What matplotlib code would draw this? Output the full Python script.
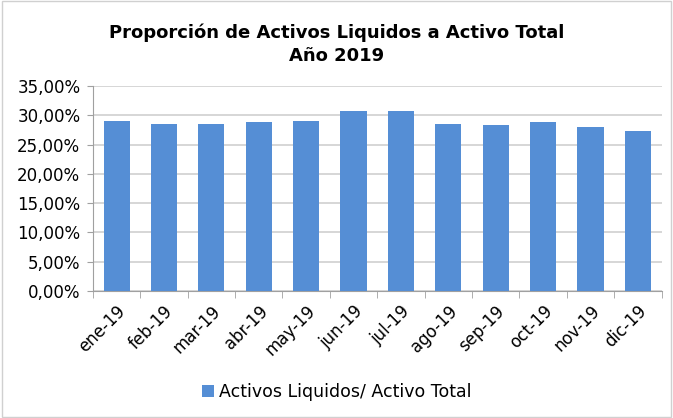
import numpy as np
import matplotlib.pyplot as plt
from matplotlib.ticker import FuncFormatter

plt.rcParams['font.family'] = ['DejaVu Sans']

meses = ['ene-19', 'feb-19', 'mar-19', 'abr-19', 'may-19', 'jun-19',
         'jul-19', 'ago-19', 'sep-19', 'oct-19', 'nov-19', 'dic-19']
valores = [29.1, 28.5, 28.5, 28.8, 29.1, 30.8, 30.8, 28.6, 28.3, 28.9, 28.0, 27.4]

fig = plt.figure(figsize=(6.73, 4.18), dpi=100)
ax = fig.add_axes([0.138, 0.304, 0.845, 0.490])

x = np.arange(len(meses))
ax.bar(x, valores, width=0.55, color='#558ED5', zorder=3,
       label='Activos Liquidos/ Activo Total')

ax.set_ylim(0, 35)
ax.set_xlim(-0.5, len(meses) - 0.5)
ax.set_yticks(np.arange(0, 36, 5))
ax.yaxis.set_major_formatter(FuncFormatter(lambda v, p: f'{v:.2f}%'.replace('.', ',')))
ax.grid(axis='y', color='#D0D0D0', linewidth=1.2, zorder=0)
ax.set_xticks(x)
ax.set_xticklabels(meses, rotation=45, ha='right', rotation_mode='anchor')
ax.set_xticks(np.arange(-0.5, len(meses)), minor=True)
ax.tick_params(axis='x', which='major', length=0, labelsize=12, pad=8)
ax.tick_params(axis='x', which='minor', length=5, color='#A0A0A0')
ax.tick_params(axis='y', length=4, color='#A0A0A0', labelsize=12, pad=5)

for s in ['top', 'right']:
    ax.spines[s].set_visible(False)
for s in ['left', 'bottom']:
    ax.spines[s].set_color('#A0A0A0')

fig.text(0.5, 0.894, 'Proporción de Activos Liquidos a Activo Total\nAño 2019',
         ha='center', va='center', fontsize=13, fontweight='bold', linespacing=1.3)

fig.legend(loc='center', bbox_to_anchor=(0.5, 0.062), frameon=False,
           fontsize=12.5, handlelength=0.7, handleheight=0.7, handletextpad=0.3)

fig.patches.append(plt.Rectangle((0.003, 0.003), 0.994, 0.994, transform=fig.transFigure,
                                 fill=False, edgecolor='#D0D0D0', linewidth=1))

fig.savefig('out.png', dpi=100)
